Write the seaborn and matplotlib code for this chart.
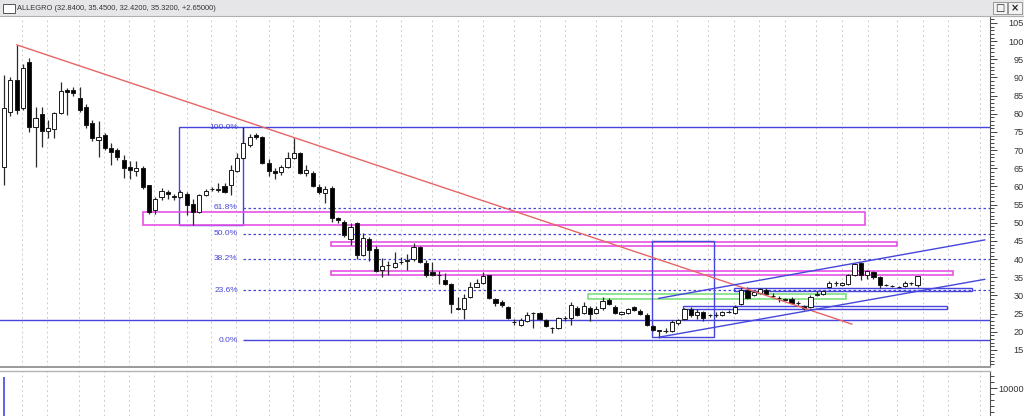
import numpy as np
import pandas as pd
import matplotlib
matplotlib.use("Agg")
import matplotlib.pyplot as plt
import seaborn as sns
from matplotlib.patches import Rectangle
from matplotlib.ticker import MultipleLocator

sns.set_theme(style="white")
plt.rcParams['font.family'] = ['Liberation Sans', 'DejaVu Sans']

title = "ALLEGRO (32.8400, 35.4500, 32.4200, 35.3200, +2.65000)"

# weekly candles
opens = [65.4, 80.5, 89.3, 81.6, 94.3, 76.4, 80.0, 75.2, 75.8, 80.2,
         86.6, 86.5, 84.4, 81.9, 77.5, 72.8, 74.2, 70.6, 70.0, 67.3,
         65.4, 64.2, 65.1, 60.4, 53.6, 57.1, 58.6, 57.5, 57.2, 58.0,
         55.2, 53.0, 57.7, 59.2, 59.0, 60.1, 60.4, 64.3, 67.8, 71.4,
         74.1, 73.6, 66.5, 64.3, 64.0, 65.4, 67.8, 69.2, 63.6, 63.7,
         59.8, 58.2, 59.6, 51.3, 50.2, 45.5, 49.9, 41.1, 45.5, 42.8,
         37.0, 38.3, 37.8, 39.1, 39.6, 40.0, 43.3, 39.0, 36.5, 35.6,
         34.3, 33.2, 26.4, 26.3, 29.6, 32.4, 33.4, 35.6, 29.0, 28.2,
         26.8, 22.7, 21.9, 23.0, 25.1, 25.2, 23.2, 21.0, 21.0, 23.7,
         23.8, 26.5, 25.2, 26.5, 25.2, 26.5, 28.8, 26.8, 24.9, 25.2,
         26.8, 25.7, 24.6, 21.6, 20.3, 20.2, 20.2, 22.4, 23.5, 26.2,
         24.6, 25.5, 24.5, 24.6, 24.6, 25.4, 25.2, 27.6, 31.5, 30.1,
         30.6, 31.5, 29.8, 29.3, 28.8, 29.0, 27.9, 27.1, 26.8, 30.1,
         30.4, 32.3, 33.3, 32.9, 33.2, 35.6, 38.9, 35.6, 36.5, 35.1,
         32.8, 32.5, 32.2, 32.6, 33.3, 32.84]
highs = [90.7, 90.0, 99.0, 93.7, 95.4, 81.9, 82.0, 78.3, 80.5, 88.8,
         87.1, 87.3, 87.4, 82.6, 78.2, 78.0, 74.7, 72.0, 70.6, 68.6,
         67.0, 67.0, 65.5, 60.5, 57.0, 59.6, 59.0, 58.0, 59.0, 58.5,
         56.5, 58.0, 59.2, 59.8, 61.0, 61.0, 66.0, 69.2, 76.4, 74.5,
         74.6, 74.0, 67.5, 65.0, 65.8, 69.5, 73.3, 69.4, 65.8, 64.2,
         60.6, 60.0, 60.0, 51.6, 50.8, 50.0, 50.3, 47.2, 46.2, 43.5,
         40.3, 39.5, 42.0, 40.7, 41.3, 44.4, 43.6, 39.8, 39.1, 36.6,
         36.3, 33.4, 29.6, 30.4, 33.8, 34.5, 36.5, 35.6, 29.3, 28.7,
         27.0, 23.5, 23.7, 25.4, 25.4, 25.4, 23.5, 21.3, 24.2, 24.4,
         28.2, 27.1, 28.1, 27.1, 27.0, 29.6, 29.4, 27.4, 25.8, 26.6,
         27.0, 26.2, 25.2, 21.9, 20.5, 21.0, 23.2, 23.6, 26.5, 26.8,
         26.2, 25.8, 25.0, 25.5, 25.8, 26.0, 27.3, 32.3, 32.3, 31.4,
         32.1, 32.1, 30.6, 29.9, 29.3, 29.5, 28.4, 27.4, 30.1, 31.1,
         31.6, 33.9, 34.1, 33.7, 35.9, 38.9, 39.2, 36.9, 36.8, 35.3,
         33.2, 32.9, 32.6, 33.9, 33.6, 35.45]
lows = [60.4, 79.5, 80.0, 81.0, 75.0, 65.4, 70.9, 73.3, 73.3, 80.0,
        79.7, 84.9, 80.5, 76.0, 72.5, 68.1, 70.0, 65.9, 67.4, 62.3,
        62.0, 63.0, 59.4, 52.3, 52.3, 56.2, 56.5, 56.3, 56.8, 52.2,
        49.4, 52.6, 57.3, 58.8, 58.6, 58.1, 57.6, 64.0, 67.5, 71.0,
        73.0, 66.3, 62.9, 62.0, 63.2, 65.0, 67.5, 63.4, 63.0, 59.8,
        57.8, 55.5, 50.2, 50.0, 46.0, 43.9, 40.0, 40.8, 39.5, 36.4,
        35.1, 35.5, 37.5, 38.6, 37.0, 39.4, 38.9, 35.1, 35.3, 33.2,
        33.0, 25.2, 26.0, 23.5, 29.2, 32.2, 33.1, 29.0, 27.1, 26.9,
        23.5, 21.9, 21.6, 22.7, 21.0, 23.2, 21.3, 19.7, 20.7, 23.0,
        21.9, 24.3, 24.9, 22.9, 24.9, 26.0, 27.4, 24.9, 24.6, 25.0,
        25.7, 24.6, 21.6, 20.2, 18.3, 19.7, 20.0, 22.0, 23.3, 24.2,
        23.6, 23.0, 24.2, 24.2, 24.4, 25.2, 25.0, 27.3, 29.0, 29.8,
        30.3, 30.1, 29.5, 28.1, 28.4, 27.7, 27.5, 26.1, 26.5, 29.9,
        30.2, 32.1, 32.6, 32.7, 33.0, 35.4, 34.3, 34.6, 34.6, 32.0,
        32.5, 32.3, 32.0, 32.4, 32.8, 32.42]
closes = [81.6, 89.3, 81.0, 92.6, 76.4, 78.9, 75.3, 76.0, 80.2, 86.3,
          86.0, 85.7, 81.0, 76.9, 73.3, 73.6, 70.6, 69.5, 68.1, 65.1,
          64.5, 65.0, 59.9, 53.0, 56.6, 58.8, 58.0, 57.0, 58.5, 55.0,
          53.0, 57.7, 58.8, 59.4, 59.2, 58.5, 64.5, 67.8, 72.0, 73.6,
          73.6, 66.5, 64.3, 63.8, 65.4, 67.8, 69.2, 63.7, 64.6, 60.1,
          58.5, 59.3, 51.3, 50.8, 46.6, 48.8, 41.1, 45.8, 42.5, 36.7,
          38.1, 38.5, 39.0, 39.3, 39.8, 43.3, 39.2, 35.6, 35.6, 35.7,
          33.2, 27.6, 26.6, 29.3, 32.4, 33.4, 35.4, 29.3, 27.9, 27.4,
          23.8, 22.8, 23.2, 24.6, 25.2, 23.5, 21.6, 21.1, 23.8, 23.8,
          27.4, 24.6, 27.1, 24.9, 26.3, 28.5, 27.7, 25.2, 25.5, 26.3,
          26.0, 24.9, 21.9, 20.5, 20.4, 20.3, 22.7, 23.2, 26.2, 24.6,
          25.5, 23.8, 24.6, 24.7, 25.5, 25.5, 26.8, 31.5, 29.3, 30.9,
          31.8, 30.4, 29.9, 29.4, 28.9, 27.9, 28.0, 26.5, 29.6, 30.4,
          31.2, 33.4, 33.4, 33.4, 35.6, 38.6, 35.6, 36.7, 35.1, 32.9,
          32.9, 32.6, 32.3, 33.4, 33.4, 35.32]

vol_idx = [0]
vol_vals = [11900]

# month separators (bar index)
month_grid = [2.8, 6.8, 11.9, 15.9, 19.9, 23.8, 29.0, 32.8, 36.9, 42.0,
              45.9, 50.0, 54.9, 59.0, 63.0, 67.9, 72.0, 76.0, 80.9, 85.0,
              89.0, 93.9, 98.0, 102.8, 106.8, 111.8, 115.9, 119.9, 124.0,
              128.9, 133.0, 137.2, 141.7, 145.8, 149.9, 154.9]

# fibonacci retracement drawn from the box
fib_labels = ["100.0%", "61.8%", "50.0%", "38.2%", "23.6%", "0.0%"]
fib_prices = [76.3, 54.1, 47.0, 40.1, 31.5, 17.7]
fib_box = (27.8, 37.9, 49.4, 76.3)

support_level = 23.25

# trend lines: (x0, y0, x1, y1)
red_line = (2.0, 99.0, 134.6, 22.1)
channel_upper = (103.9, 29.2, 155.7, 45.3)
channel_lower = (103.9, 18.5, 155.7, 34.45)

# zones: (x0, x1, y0, y1)
magenta_zones = [(22.0, 136.7, 49.5, 53.0),
                 (51.9, 141.7, 43.7, 44.7),
                 (51.9, 150.7, 35.6, 36.8)]
green_zones = [(92.7, 133.7, 29.0, 30.3)]
blue_zones = [(107.8, 149.7, 26.2, 27.1),
              (115.9, 153.7, 31.3, 32.1)]
blue_box = (102.8, 112.7, 18.5, 45.0)

df = pd.DataFrame({"o": opens, "h": highs, "l": lows, "c": closes})
df["i"] = np.arange(len(df))

W, H = 1024, 416
XMIN, XMAX = -0.635, 156.5
BLUE = "#4646dc"
MAG = "#e650e6"
GREEN = "#7de07d"
RED = "#e86464"

fig = plt.figure(figsize=(W / 100, H / 100), dpi=100)
fig.patch.set_facecolor("white")
ax = fig.add_axes([0, 1 - 367 / H, 990 / W, 350 / H])
vax = fig.add_axes([0, 0, 990 / W, 45 / H])

for a in (ax, vax):
    a.set_facecolor("white")
    for g in month_grid:
        a.axvline(g, color="#cdcdcd", lw=0.7, ls=(0, (2, 3)), zorder=0)
    a.set_xlim(XMIN, XMAX)
    a.set_xticks([])
    for s in ("left", "top"):
        a.spines[s].set_visible(False)
    a.spines["right"].set_color("#505050")
    a.spines["right"].set_linewidth(0.8)
    a.yaxis.tick_right()
    a.tick_params(axis="y", which="both", right=True, left=False,
                  labelright=True, labelleft=False, direction="out",
                  colors="#444444", labelcolor="#333333", labelsize=6.6,
                  width=0.7, pad=19.5)
    a.tick_params(axis="y", which="major", length=5)
    a.tick_params(axis="y", which="minor", length=2.7)

ax.spines["bottom"].set_color("#9a9a9a")
ax.spines["bottom"].set_linewidth(1.4)
vax.spines["top"].set_visible(True)
vax.spines["top"].set_color("#b4b4b4")
vax.spines["top"].set_linewidth(1.0)
vax.spines["bottom"].set_visible(False)

# candles
up = df["c"] >= df["o"]
ax.vlines(df["i"], df["l"], df["h"], color="#2a2a2a", lw=0.9, zorder=3)
ax.bar(df["i"], (df["c"] - df["o"]).abs().clip(lower=0.1),
       bottom=df[["o", "c"]].min(axis=1), width=0.66,
       color=np.where(up, "white", "black"), edgecolor="#1a1a1a",
       linewidth=0.7, zorder=4)

# fibonacci
x0, x1, y0, y1 = fib_box
ax.add_patch(Rectangle((x0, y0), x1 - x0, y1 - y0, fill=False, ec=BLUE,
                       lw=1.0, zorder=2))
for lab, p in zip(fib_labels, fib_prices):
    solid = lab in ("100.0%", "0.0%")
    ax.hlines(p, x1, XMAX, color=BLUE, lw=1.0 if solid else 0.9,
              ls="-" if solid else (0, (2, 2)), zorder=2)
    ax.text(37.1, p, lab, ha="right", va="center", color=BLUE, fontsize=6,
            zorder=6)

ax.axhline(support_level, color=BLUE, lw=1.0, zorder=2)

# zones
for zx0, zx1, zy0, zy1 in magenta_zones:
    ax.add_patch(Rectangle((zx0, zy0), zx1 - zx0, zy1 - zy0, fill=False,
                           ec=MAG, lw=1.2, zorder=2))
for zx0, zx1, zy0, zy1 in green_zones:
    ax.add_patch(Rectangle((zx0, zy0), zx1 - zx0, zy1 - zy0, fill=False,
                           ec=GREEN, lw=1.2, zorder=2))
for zx0, zx1, zy0, zy1 in blue_zones:
    ax.add_patch(Rectangle((zx0, zy0), zx1 - zx0, zy1 - zy0, fill=False,
                           ec=BLUE, lw=1.0, zorder=2))
bx0, bx1, by0, by1 = blue_box
ax.add_patch(Rectangle((bx0, by0), bx1 - bx0, by1 - by0, fill=False,
                       ec=BLUE, lw=1.0, zorder=2))

# trend lines
for (lx0, ly0, lx1, ly1), col in ((red_line, RED), (channel_upper, BLUE),
                                  (channel_lower, BLUE)):
    sns.lineplot(x=[lx0, lx1], y=[ly0, ly1], ax=ax, color=col, lw=1.0,
                 zorder=5)

ax.set_ylim(10.31, 106.65)
ax.set_yticks(np.arange(15, 106, 5))
ax.yaxis.set_minor_locator(MultipleLocator(1))
ax.set_xlim(XMIN, XMAX)
ax.set_xlabel("")
ax.set_ylabel("")
for lbl in ax.get_yticklabels():
    lbl.set_horizontalalignment("right")

# volume
vax.bar(vol_idx, vol_vals, width=0.42, color="#6464e6", linewidth=0,
        zorder=3)
vax.set_ylim(5333, 12883)
vax.set_yticks([10000])
vax.yaxis.set_minor_locator(MultipleLocator(1000))
for lbl in vax.get_yticklabels():
    lbl.set_horizontalalignment("right")

# window title bar
fig.patches.append(Rectangle((0, 1 - 16 / H), 1, 16 / H,
                             transform=fig.transFigure, fc="#e6e6e8",
                             ec="none", zorder=0))
fig.lines.append(plt.Line2D([0, 1], [1 - 16 / H, 1 - 16 / H],
                            transform=fig.transFigure, color="#b0b0b0",
                            lw=0.8))
fig.patches.append(Rectangle((3 / W, 1 - 13 / H), 12 / W, 9 / H,
                             transform=fig.transFigure, fc="white",
                             ec="#555555", lw=0.7))
fig.text(17 / W, 1 - 8 / H, title, fontsize=5.4, va="center", ha="left",
         color="#333333")
for bx, glyph in ((993, "\u25a1"), (1008, "\u00d7")):
    fig.patches.append(Rectangle((bx / W, 1 - 14 / H), 14 / W, 12 / H,
                                 transform=fig.transFigure, fc="#f3f3f3",
                                 ec="#8a8a8a", lw=0.6))
    fig.text((bx + 7) / W, 1 - 8 / H, glyph, fontsize=7, ha="center",
             va="center", color="#222222", family=["DejaVu Sans"],
             fontweight="bold")

fig.savefig("out.png", dpi=100)
